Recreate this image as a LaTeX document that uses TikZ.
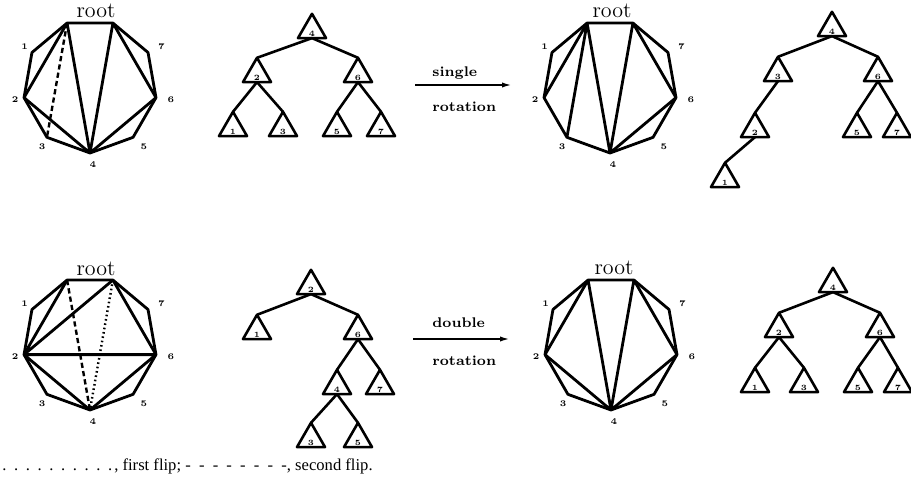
\documentclass[tikz,border=0pt]{standalone}
\usepackage{fontspec}
\newfontfamily\capfont{Liberation Serif}
\usetikzlibrary{shapes.geometric,arrows.meta,calc}
\newcommand\trilab[1]{\smash{\raisebox{-3pt}{#1}}}
\newcommand\lgdot{.\hspace{3.8pt}}
\newcommand\lgdash{-\hspace{4.1pt}}
\newcommand\mkpoly[3]{%
  \coordinate (#1c) at (#2,#3);
  \foreach \k in {0,...,8}{\coordinate (#1\k) at ($(#1c)+({-110-40*\k}:67)$);}
  \draw[poly] (#10)--(#11)--(#12)--(#13)--(#14)--(#15)--(#16)--(#17)--(#18)--cycle;
  \foreach \k in {1,...,7}{\node[vlab] (#1L\k) at ($(#1c)+({-110-40*\k}:79)+(3,0)$) {\k};}
}
\begin{document}
\begin{tikzpicture}[x=0.5pt,y=-0.5pt,
  poly/.style={line width=1.4pt, line join=round},
  diag/.style={line width=1.4pt},
  flipa/.style={line width=1.2pt, dash pattern=on 2.6pt off 1.6pt},
  flipb/.style={line width=1.2pt, dash pattern=on 0.8pt off 1.4pt},
  tnode/.style={regular polygon, regular polygon sides=3, minimum size=16.2pt,
    inner sep=0pt, outer sep=0pt, draw, line width=1.3pt, line join=round,
    font=\fontsize{4}{5}\selectfont\bfseries},
  tedge/.style={line width=1.3pt},
  vlab/.style={font=\fontsize{4.3}{5}\selectfont\bfseries, inner sep=0pt},
  rootlab/.style={font=\fontsize{11}{13}\selectfont, anchor=base, inner sep=0pt},
  rotlab/.style={font=\fontsize{7}{8}\selectfont\bfseries, anchor=west, inner sep=0pt},
  rotarrow/.style={line width=0.9pt, -{Latex[length=5pt,width=2.6pt]}},
]
\useasboundingbox (0,0) rectangle (911,487);

% ---------- polygons ----------
\mkpoly{A}{90}{86}
\draw[diag] (A0)--(A2) (A0)--(A4) (A2)--(A4) (A8)--(A4) (A8)--(A6) (A6)--(A4);
\draw[flipa] (A0)--(A3);
\node[rootlab] (Ar) at (96,18) {root};

\mkpoly{B}{610}{86}
\draw[diag] (B0)--(B2) (B0)--(B3) (B0)--(B4) (B8)--(B4) (B8)--(B6) (B6)--(B4);
\node[rootlab] (Br) at (612,18) {root};

\mkpoly{C}{90}{343}
\draw[diag] (C0)--(C2) (C8)--(C2) (C2)--(C6) (C8)--(C6) (C2)--(C4) (C6)--(C4);
\draw[flipa] (C0)--(C4);
\draw[flipb] (C8)--(C4);
\node[rootlab] (Cr) at (96,275) {root};

\mkpoly{D}{611}{343}
\draw[diag] (D0)--(D2) (D0)--(D4) (D2)--(D4) (D8)--(D4) (D8)--(D6) (D6)--(D4);
\node[rootlab] (Dr) at (614,274) {root};

% ---------- tree 1 ----------
\node[tnode] (a4) at (312,30) {\trilab{4}};
\node[tnode] (a2) at (257,74) {\trilab{2}};
\node[tnode] (a6) at (358,74) {\trilab{6}};
\node[tnode] (a1) at (233,128) {\trilab{1}};
\node[tnode] (a3) at (283,128) {\trilab{3}};
\node[tnode] (a5) at (337,128) {\trilab{5}};
\node[tnode] (a7) at (381,128) {\trilab{7}};
\draw[tedge] (a4.side 2)--(a2.corner 1) (a4.side 2)--(a6.corner 1)
  (a2.side 2)--(a1.corner 1) (a2.side 2)--(a3.corner 1)
  (a6.side 2)--(a5.corner 1) (a6.side 2)--(a7.corner 1);

% ---------- tree 2 ----------
\node[tnode] (b4) at (832,28) {\trilab{4}};
\node[tnode] (b3) at (778,73) {\trilab{3}};
\node[tnode] (b6) at (878,73) {\trilab{6}};
\node[tnode] (b2) at (755,129) {\trilab{2}};
\node[tnode] (b5) at (857,129) {\trilab{5}};
\node[tnode] (b7) at (897,129) {\trilab{7}};
\node[tnode] (b1) at (725,179) {\trilab{1}};
\draw[tedge] (b4.side 2)--(b3.corner 1) (b4.side 2)--(b6.corner 1)
  (b3.side 2)--(b2.corner 1) (b2.side 2)--(b1.corner 1)
  (b6.side 2)--(b5.corner 1) (b6.side 2)--(b7.corner 1);

% ---------- tree 3 ----------
\node[tnode] (c2) at (311,286) {\trilab{2}};
\node[tnode] (c1) at (257,331) {\trilab{1}};
\node[tnode] (c6) at (358,331) {\trilab{6}};
\node[tnode] (c4) at (337,386) {\trilab{4}};
\node[tnode] (c7) at (380,386) {\trilab{7}};
\node[tnode] (c3) at (311,439) {\trilab{3}};
\node[tnode] (c5) at (358,439) {\trilab{5}};
\draw[tedge] (c2.side 2)--(c1.corner 1) (c2.side 2)--(c6.corner 1)
  (c6.side 2)--(c4.corner 1) (c6.side 2)--(c7.corner 1)
  (c4.side 2)--(c3.corner 1) (c4.side 2)--(c5.corner 1);

% ---------- tree 4 ----------
\node[tnode] (d4) at (833,284) {\trilab{4}};
\node[tnode] (d2) at (779,329) {\trilab{2}};
\node[tnode] (d6) at (880,329) {\trilab{6}};
\node[tnode] (d1) at (755,384) {\trilab{1}};
\node[tnode] (d3) at (804,384) {\trilab{3}};
\node[tnode] (d5) at (858,384) {\trilab{5}};
\node[tnode] (d7) at (898,384) {\trilab{7}};
\draw[tedge] (d4.side 2)--(d2.corner 1) (d4.side 2)--(d6.corner 1)
  (d2.side 2)--(d1.corner 1) (d2.side 2)--(d3.corner 1)
  (d6.side 2)--(d5.corner 1) (d6.side 2)--(d7.corner 1);

% ---------- rotation arrows ----------
\coordinate (s1) at (415,85); \coordinate (e1) at (512,85);
\draw[rotarrow] (s1)--(e1);
\node[rotlab] (sg) at (432,73) {single};
\node[rotlab] (r1) at (432,107) {rotation};
\coordinate (s2) at (413,339); \coordinate (e2) at (510,339);
\draw[rotarrow] (s2)--(e2);
\node[rotlab] (db) at (432,323) {double};
\node[rotlab] (r2) at (432,361) {rotation};

% ---------- legend ----------
\node[anchor=base west, inner sep=0pt, font=\capfont\fontsize{8.3}{10}\selectfont] (leg) at (2,470)
  {\lgdot\lgdot\lgdot\lgdot\lgdot\lgdot\lgdot\lgdot\lgdot.\hspace{1pt}, first flip; \lgdash\lgdash\lgdash\lgdash\lgdash\lgdash\lgdash-, second flip.};
\end{tikzpicture}
\end{document}
